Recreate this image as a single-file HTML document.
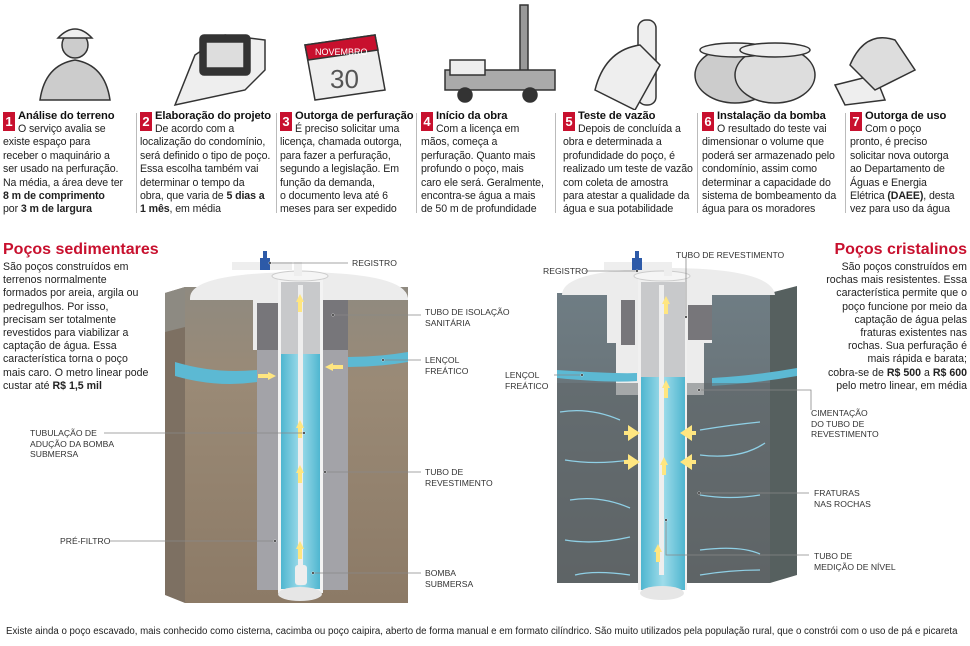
<!DOCTYPE html>
<html><head><meta charset="utf-8"><style>
*{margin:0;padding:0;box-sizing:border-box}
body{width:970px;height:646px;background:#fff;position:relative;overflow:hidden;font-family:"Liberation Sans",sans-serif;color:#222}
.col{position:absolute;top:110px;font-size:10.6px;line-height:13.4px;letter-spacing:-0.1px}
.col h4{font-size:11.2px;font-weight:bold;line-height:13px;margin-left:15px;color:#111}
.num{position:absolute;left:0;top:2px;width:12px;height:19px;background:#c8102e;color:#fff;font-weight:bold;font-size:13px;text-align:center;line-height:19px}
.ind{padding-left:15px}
.sep{position:absolute;top:113px;width:1px;height:100px;background:#bbb}
.ttl{position:absolute;font-weight:bold;color:#c8102e;font-size:16px}
.desc{position:absolute;font-size:10.6px;line-height:13.2px}
.lab{position:absolute;font-size:8.6px;line-height:10.5px;color:#333;white-space:nowrap}
.foot{position:absolute;left:6px;top:626px;font-size:9.7px;color:#222}
</style></head><body>

<svg width="970" height="110" style="position:absolute;left:0;top:0">
<g fill="#ccc" stroke="#333" stroke-width="1.5">
<circle cx="75" cy="45" r="13"/><path d="M58 38q17-18 34 0z" fill="#eee"/>
<path d="M40 100q5-35 35-40 30 5 35 40z"/>
<path d="M175 105l20-50 30-20 40 5 0 30-20 20z" fill="#eee"/>
<rect x="200" y="35" width="50" height="40" rx="4" fill="#333"/><rect x="206" y="42" width="38" height="26" fill="#ddd"/>
<path d="M305 45l70-10 10 55-70 10z" fill="#eee"/>
<path d="M305 45l70-10 3 15-70 10z" fill="#c8102e" stroke="#333"/>
<text x="315" y="55" font-size="9" fill="#fff" stroke="none" font-family="Liberation Sans">NOVEMBRO</text>
<text x="330" y="88" font-size="26" fill="#555" stroke="none" font-family="Liberation Sans">30</text>
<rect x="520" y="5" width="8" height="80" fill="#999"/>
<path d="M445 70h110v20h-110z" fill="#aaa"/><path d="M450 60h35v15h-35z" fill="#eee"/>
<circle cx="465" cy="95" r="7" fill="#333"/><circle cx="530" cy="95" r="7" fill="#333"/>
<rect x="638" y="20" width="18" height="85" rx="8" fill="#eee"/>
<path d="M595 90q10-40 45-45l20 20-25 45z" fill="#eee"/>
<ellipse cx="735" cy="75" rx="40" ry="28" fill="#ccc"/><ellipse cx="775" cy="75" rx="40" ry="28" fill="#ddd"/>
<ellipse cx="735" cy="50" rx="35" ry="7" fill="#eee"/><ellipse cx="775" cy="50" rx="35" ry="7" fill="#eee"/>
<path d="M835 85l40-10 10 25-40 5z" fill="#eee"/>
<path d="M850 65q15-35 45-25l20 30-40 20z" fill="#ddd"/>
</g></svg>

<div class="col" style="left:3px;width:130px"><div class="num">1</div><h4>Análise do terreno</h4><div class="ind">O serviço avalia se</div>existe espaço para<br>receber o maquinário a<br>ser usado na perfuração.<br>Na média, a área deve ter<br><b>8 m de comprimento</b><br>por <b>3 m de largura</b></div>
<div class="sep" style="left:136px"></div>
<div class="col" style="left:140px;width:135px"><div class="num">2</div><h4>Elaboração do projeto</h4><div class="ind">De acordo com a</div>localização do condomínio,<br>será definido o tipo de poço.<br>Essa escolha também vai<br>determinar o tempo da<br>obra, que varia de <b>5 dias a<br>1 mês</b>, em média</div>
<div class="sep" style="left:276px"></div>
<div class="col" style="left:280px;width:135px"><div class="num">3</div><h4>Outorga de perfuração</h4><div class="ind">É preciso solicitar uma</div>licença, chamada outorga,<br>para fazer a perfuração,<br>segundo a legislação. Em<br>função da demanda,<br>o documento leva até 6<br>meses para ser expedido</div>
<div class="sep" style="left:416px"></div>
<div class="col" style="left:421px;width:135px"><div class="num">4</div><h4>Início da obra</h4><div class="ind">Com a licença em</div>mãos, começa a<br>perfuração. Quanto mais<br>profundo o poço, mais<br>caro ele será. Geralmente,<br>encontra-se água a mais<br>de 50 m de profundidade</div>
<div class="sep" style="left:555px"></div>
<div class="col" style="left:563px;width:135px"><div class="num">5</div><h4>Teste de vazão</h4><div class="ind">Depois de concluída a</div>obra e determinada a<br>profundidade do poço, é<br>realizado um teste de vazão<br>com coleta de amostra<br>para atestar a qualidade da<br>água e sua potabilidade</div>
<div class="sep" style="left:697px"></div>
<div class="col" style="left:702px;width:140px"><div class="num">6</div><h4>Instalação da bomba</h4><div class="ind">O resultado do teste vai</div>dimensionar o volume que<br>poderá ser armazenado pelo<br>condomínio, assim como<br>determinar a capacidade do<br>sistema de bombeamento da<br>água para os moradores</div>
<div class="sep" style="left:845px"></div>
<div class="col" style="left:850px;width:120px"><div class="num">7</div><h4>Outorga de uso</h4><div class="ind">Com o poço</div>pronto, é preciso<br>solicitar nova outorga<br>ao Departamento de<br>Águas e Energia<br>Elétrica <b>(DAEE)</b>, desta<br>vez para uso da água</div>

<div class="ttl" style="left:3px;top:241px">Poços sedimentares</div>
<div class="desc" style="left:3px;top:261px">São poços construídos em<br>terrenos normalmente<br>formados por areia, argila ou<br>pedregulhos. Por isso,<br>precisam ser totalmente<br>revestidos para viabilizar a<br>captação de água. Essa<br>característica torna o poço<br>mais caro. O metro linear pode<br>custar até <b>R$ 1,5 mil</b></div>

<div class="ttl" style="right:3px;top:241px">Poços cristalinos</div>
<div class="desc" style="right:3px;top:261px;text-align:right">São poços construídos em<br>rochas mais resistentes. Essa<br>característica permite que o<br>poço funcione por meio da<br>captação de água pelas<br>fraturas existentes nas<br>rochas. Sua perfuração é<br>mais rápida e barata;<br>cobra-se de <b>R$ 500</b> a <b>R$ 600</b><br>pelo metro linear, em média</div>

<svg width="970" height="646" style="position:absolute;left:0;top:0">
<defs>
<linearGradient id="soil" x1="0" y1="0" x2="0" y2="1"><stop offset="0" stop-color="#8f8a80"/><stop offset="0.3" stop-color="#9a8a76"/><stop offset="1" stop-color="#8c7a66"/></linearGradient>
<linearGradient id="rock" x1="0" y1="0" x2="0" y2="1"><stop offset="0" stop-color="#6f7d84"/><stop offset="1" stop-color="#5f6466"/></linearGradient>
<linearGradient id="wat" x1="0" y1="0" x2="1" y2="0"><stop offset="0" stop-color="#4fb6d0"/><stop offset="0.5" stop-color="#9fdcea"/><stop offset="1" stop-color="#4fb6d0"/></linearGradient>
<marker id="d" viewBox="0 0 4 4" refX="2" refY="2" markerWidth="4" markerHeight="4"><circle cx="2" cy="2" r="1.5" fill="#111" stroke="#fff" stroke-width=".6"/></marker>
</defs>
<path d="M165 293l20-6 0 316-20-8z" fill="#7d7062"/>
<path d="M185 287h223v316h-223z" fill="url(#soil)"/>
<path d="M165 293l20-6 0 40-20 5z" fill="#8d8a82"/>
<path d="M190 298q0-25 110-26 105 1 108 26v2h-85v50h-70v-50h-63z" fill="#ececec"/>
<path d="M175 362q40 12 82 8v12q-40 6-82-6z" fill="#5cb9d3"/>
<path d="M348 357q30 0 60-5v10q-30 5-60 5z" fill="#5cb9d3"/>
<rect x="257" y="303" width="91" height="287" fill="#a3a3a8"/>
<rect x="257" y="303" width="21" height="47" fill="#77767a"/>
<rect x="323" y="300" width="25" height="50" fill="#77767a"/>
<rect x="278" y="278" width="45" height="315" fill="#f3f3f3"/>
<rect x="281" y="282" width="39" height="72" fill="#c8c9cb"/>
<rect x="281" y="354" width="39" height="235" fill="url(#wat)"/>
<rect x="298" y="285" width="5" height="290" fill="#eee"/>
<rect x="295" y="565" width="12" height="20" rx="3" fill="#eee"/>
<ellipse cx="300" cy="594" rx="22" ry="7" fill="#e6e6e6"/>
<ellipse cx="300" cy="276" rx="28" ry="5" fill="#f5f5f5" stroke="#ccc"/>
<path d="M232 262h60v8h-60zM294 262h8v14h-8z" fill="#eee"/>
<rect x="260" y="258" width="10" height="12" fill="#2d5aa8"/><rect x="263" y="251" width="4" height="7" fill="#2d5aa8"/>
<g fill="#ffe680"><path d="M296 302l4-8 4 8h-2v10h-4v-10z"/><path d="M296 428l4-8 4 8h-2v10h-4v-10z"/><path d="M296 473l4-8 4 8h-2v10h-4v-10z"/><path d="M296 549l4-8 4 8h-2v10h-4v-10z"/><path d="M268 372l8 4-8 4v-2h-10v-4h10z"/><path d="M333 363l-8 4 8 4v-2h10v-4h-10z"/></g>
<path d="M557 293h213v290h-213z" fill="url(#rock)"/>
<path d="M770 293l27-7v289l-27 8z" fill="#56605f"/>
<path d="M562 295q0-26 110-27 100 1 103 27h-63v48h-8v52h-88v-52h-9v-48z" fill="#ececec"/>
<path d="M557 370q60 4 80 3v8q-30 2-80-3zM712 378q40-2 85-10v8q-40 7-85 10z" fill="#5cb9d3"/>
<path d="M557 383h213v200h-213z" fill="#5e6466" opacity=".5"/>
<g stroke="#8fd0e6" stroke-width="1.3" fill="none"><path d="M560 412q30-5 60 8M700 430q30-5 60-8M565 460q30 5 65 0M700 455q40 5 65-12M570 500q30-5 60 8M700 495q30 5 60 0M565 540q30 5 65-3M700 550q40-5 60 4M575 575q20-5 55 0M700 575q30-5 60-5"/></g>
<rect x="621" y="300" width="14" height="45" fill="#77767a"/><rect x="688" y="305" width="24" height="35" fill="#77767a"/>
<rect x="638" y="276" width="49" height="314" fill="#f0f0f0"/>
<rect x="641" y="282" width="44" height="95" fill="#c8c9cb"/>
<rect x="641" y="377" width="44" height="213" fill="url(#wat)"/>
<rect x="659" y="285" width="5" height="290" fill="#eee"/>
<ellipse cx="662" cy="593" rx="22" ry="7" fill="#e6e6e6"/>
<ellipse cx="662" cy="276" rx="28" ry="5" fill="#f5f5f5" stroke="#ccc"/>
<path d="M604 262h60v8h-60zM664 262h8v14h-8z" fill="#eee"/>
<rect x="632" y="258" width="10" height="12" fill="#2d5aa8"/><rect x="635" y="251" width="4" height="7" fill="#2d5aa8"/>
<g fill="#ffe680"><path d="M662 304l4-8 4 8h-2v10h-4v-10z"/><path d="M662 388l4-8 4 8h-2v10h-4v-10z"/><path d="M660 465l4-8 4 8h-2v10h-4v-10z"/><path d="M654 552l4-8 4 8h-2v10h-4v-10z"/><path d="M640 433l-12-8v6h-4v4h4v6z"/><path d="M640 462l-12-8v6h-4v4h4v6z"/><path d="M680 433l12-8v6h4v4h-4v6z"/><path d="M680 462l12-8v6h4v4h-4v6z"/></g>
<g stroke="#888" stroke-width=".8" fill="none">
<path d="M270 263h78" marker-start="url(#d)"/><path d="M333 315h88" marker-start="url(#d)"/><path d="M383 360h38" marker-start="url(#d)"/>
<path d="M325 472h96" marker-start="url(#d)"/><path d="M313 573h108" marker-start="url(#d)"/>
<path d="M304 433h-200" marker-start="url(#d)"/><path d="M275 541h-165" marker-start="url(#d)"/>
<path d="M637 271h-52" marker-start="url(#d)"/><path d="M686 317v-62" marker-start="url(#d)"/>
<path d="M582 375h-28" marker-start="url(#d)"/><path d="M699 390h112v20" marker-start="url(#d)"/>
<path d="M699 493h110" marker-start="url(#d)"/><path d="M666 520v35h143" marker-start="url(#d)"/>
</g>
</svg>

<div class="lab" style="left:352px;top:258px">REGISTRO</div>
<div class="lab" style="left:425px;top:307px">TUBO DE ISOLAÇÃO<br>SANITÁRIA</div>
<div class="lab" style="left:425px;top:355px">LENÇOL<br>FREÁTICO</div>
<div class="lab" style="left:425px;top:467px">TUBO DE<br>REVESTIMENTO</div>
<div class="lab" style="left:425px;top:568px">BOMBA<br>SUBMERSA</div>
<div class="lab" style="left:30px;top:428px">TUBULAÇÃO DE<br>ADUÇÃO DA BOMBA<br>SUBMERSA</div>
<div class="lab" style="left:60px;top:536px">PRÉ-FILTRO</div>
<div class="lab" style="left:543px;top:266px">REGISTRO</div>
<div class="lab" style="left:676px;top:250px">TUBO DE REVESTIMENTO</div>
<div class="lab" style="left:505px;top:370px">LENÇOL<br>FREÁTICO</div>
<div class="lab" style="left:811px;top:408px">CIMENTAÇÃO<br>DO TUBO DE<br>REVESTIMENTO</div>
<div class="lab" style="left:814px;top:488px">FRATURAS<br>NAS ROCHAS</div>
<div class="lab" style="left:814px;top:551px">TUBO DE<br>MEDIÇÃO DE NÍVEL</div>

<div class="foot">Existe ainda o poço escavado, mais conhecido como cisterna, cacimba ou poço caipira, aberto de forma manual e em formato cilíndrico. São muito utilizados pela população rural, que o constrói com o uso de pá e picareta</div>
</body></html>
